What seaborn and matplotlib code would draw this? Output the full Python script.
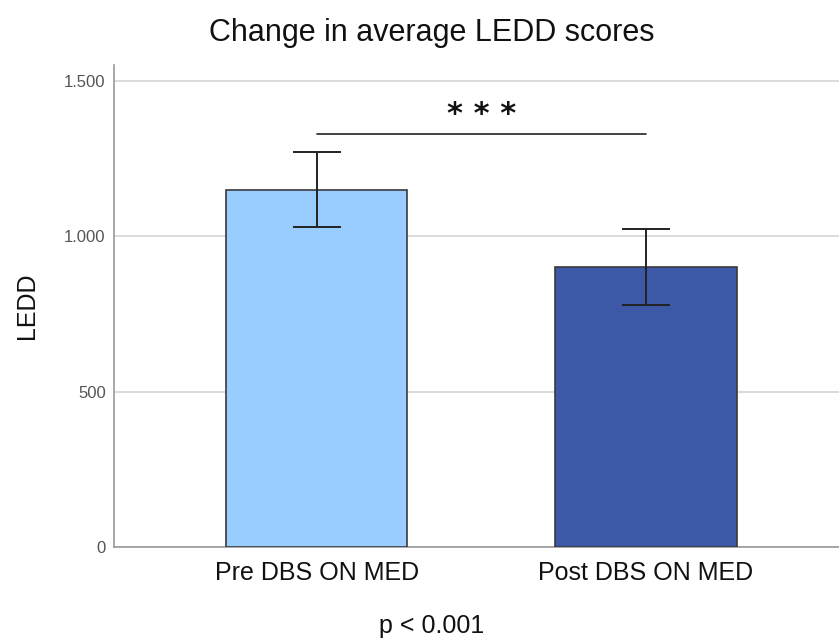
import matplotlib
matplotlib.use("Agg")
import matplotlib.pyplot as plt
import matplotlib.ticker as mticker
import numpy as np
import pandas as pd
import seaborn as sns

# data
groups = ["Pre DBS ON MED", "Post DBS ON MED"]
means = [1150, 900]
errors = [120, 122]
bar_colors = ["#99ccff", "#3e58a8"]
y_ticks = [0, 500, 1000, 1500]

df = pd.DataFrame({"group": groups, "LEDD": means})

sns.set_style("white")
plt.rcParams["font.family"] = ["Liberation Sans", "DejaVu Sans"]

fig = plt.figure(figsize=(8.39, 6.41), dpi=100)
ax = fig.add_axes([0.1359, 0.1466, 0.8641, 0.752])

sns.barplot(data=df, x="group", y="LEDD", hue="group", palette=bar_colors,
            saturation=1, errorbar=None, width=0.55, edgecolor="#3a3a3a",
            linewidth=1.2, legend=False, ax=ax, zorder=3)
ax.errorbar(np.arange(len(groups)), means, yerr=errors, fmt="none",
            ecolor="#222222", elinewidth=1.4, capsize=17, capthick=1.4, zorder=4)

ax.set_xlim(-0.615, 1.586)
ax.set_ylim(0, 1551)
ax.set_yticks(y_ticks)
ax.yaxis.set_major_formatter(mticker.FuncFormatter(lambda v, p: f"{int(v):,}".replace(",", ".")))
ax.grid(axis="y", color="#d4d4d4", linewidth=1.2, zorder=0)
ax.set_axisbelow(True)

for s in ["top", "right"]:
    ax.spines[s].set_visible(False)
for s in ["left", "bottom"]:
    ax.spines[s].set_color("#9a9a9a")
    ax.spines[s].set_linewidth(1.2)

ax.tick_params(axis="y", length=0, labelsize=12, labelcolor="#555555", pad=6)
ax.tick_params(axis="x", length=0, labelsize=18, labelcolor="#111111", pad=10)
ax.set_xlabel("")
ax.set_ylabel("LEDD", fontsize=18, labelpad=18, color="#111111")

fig.text(0.515, 0.948, "Change in average LEDD scores", ha="center", va="center",
         fontsize=22, color="#111111")
fig.text(0.515, 0.0125, "p < 0.001", ha="center", va="baseline",
         fontsize=18, color="#111111")

# significance bracket
ax.plot([0, 1], [1329, 1329], color="#222222", linewidth=1.2, zorder=5)
ax.text(0.5, 1345, "* * *", ha="center", va="bottom", fontsize=22,
        family="DejaVu Sans", weight="bold", color="#111111")

fig.savefig("out.png", dpi=100)
